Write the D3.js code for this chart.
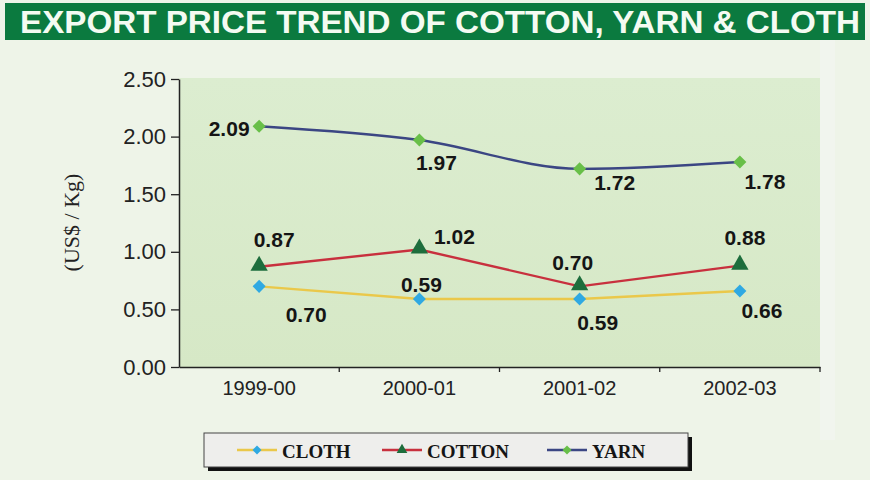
<!DOCTYPE html>
<html>
<head>
<meta charset="utf-8">
<script src="https://cdn.jsdelivr.net/npm/d3@7"></script>
<style>
  html, body { margin: 0; padding: 0; background: #eef4e8; }
  svg { display: block; }
</style>
</head>
<body>
<svg id="chart" width="870" height="480"></svg>
<script>
// Export prices in US$ per Kg
const years = ["1999-00", "2000-01", "2001-02", "2002-03"];
const cloth = [0.70, 0.59, 0.59, 0.66];
const cotton = [0.87, 1.02, 0.70, 0.88];
const yarn = [2.09, 1.97, 1.72, 1.78];
const yTicks = [0, 0.5, 1, 1.5, 2, 2.5];

// label offsets (dx, dy) relative to each point
const clothLabelPos = [[47, 28], [2, -15], [18, 23], [22, 20]];
const cottonLabelPos = [[15, -27], [35, -13], [-7, -24], [5, -28]];
const yarnLabelPos = [[-30, 2], [17, 22], [35, 14], [25, 20]];

const svg = d3.select("#chart");
const W = 870, H = 480;

// page backdrop
svg.append("rect").attr("width", W).attr("height", H).attr("fill", "#eef4e8");
svg.append("rect").attr("x", 820).attr("y", 40).attr("width", 15).attr("height", 400).attr("fill", "#f1f5ee");

// title band
svg.append("rect").attr("x", 5).attr("y", 3).attr("width", 860).attr("height", 37).attr("fill", "#0b7a3f");
svg.append("text")
  .attr("x", 20).attr("y", 33)
  .attr("textLength", 840).attr("lengthAdjust", "spacingAndGlyphs")
  .attr("font-family", "Liberation Sans Narrow, Arial Narrow, Liberation Sans, Arial, sans-serif")
  .attr("font-weight", "bold").attr("font-size", 32)
  .attr("fill", "#f4fbf2")
  .text("EXPORT PRICE TREND OF COTTON, YARN & CLOTH");

const plot = { left: 179, right: 820, top: 78, bottom: 367 };

const defs = svg.append("defs");
const grad = defs.append("linearGradient").attr("id", "plotBg").attr("x1", 0).attr("y1", 0).attr("x2", 0).attr("y2", 1);
grad.append("stop").attr("offset", "0%").attr("stop-color", "#dcedd0");
grad.append("stop").attr("offset", "100%").attr("stop-color", "#d6e8c6");

svg.append("rect")
  .attr("x", plot.left).attr("y", plot.top)
  .attr("width", plot.right - plot.left).attr("height", plot.bottom - plot.top)
  .attr("fill", "url(#plotBg)");

const x = d3.scaleBand().domain(years).range([plot.left, plot.right]);
const y = d3.scaleLinear().domain([0, 2.5]).range([plot.bottom, plot.top + 1]);
const cx = d => x(d) + x.bandwidth() / 2;

// y axis
const yAxis = svg.append("g")
  .attr("transform", `translate(${plot.left},0)`)
  .call(d3.axisLeft(y).tickValues(yTicks).tickFormat(d3.format(".2f")).tickSize(8).tickSizeOuter(0));
yAxis.select(".domain").attr("stroke", "#222").attr("stroke-width", 1.5);
yAxis.selectAll(".tick line").attr("stroke", "#222").attr("stroke-width", 1.3);
yAxis.selectAll(".tick text")
  .attr("x", -13)
  .attr("font-family", "Liberation Sans, Arial, sans-serif")
  .attr("font-size", 22).attr("fill", "#222");

// x axis
const xAxis = svg.append("g")
  .attr("transform", `translate(0,${plot.bottom})`)
  .call(d3.axisBottom(x).tickSize(0).tickSizeOuter(0));
xAxis.select(".domain").attr("stroke", "#222").attr("stroke-width", 1.5);
xAxis.selectAll(".tick text")
  .attr("dy", "1.25em")
  .attr("font-family", "Liberation Sans, Arial, sans-serif")
  .attr("font-size", 20).attr("fill", "#222");
// category separators
svg.append("g").selectAll("line")
  .data(years.slice(1).map(d => x(d)).concat([plot.right]))
  .join("line")
  .attr("x1", d => d).attr("x2", d => d)
  .attr("y1", plot.bottom).attr("y2", plot.bottom + 5)
  .attr("stroke", "#222").attr("stroke-width", 1.3);

// y axis title
svg.append("text")
  .attr("transform", `translate(79,${(plot.top + plot.bottom) / 2}) rotate(-90)`)
  .attr("text-anchor", "middle")
  .attr("font-family", "Liberation Serif, Times New Roman, serif")
  .attr("font-size", 22).attr("fill", "#222")
  .text("(US$ / Kg)");

// square rotated 45 degrees, as wide as it is tall
const wideDiamond = {
  draw(ctx, size) {
    const r = Math.sqrt(size / 2);
    ctx.moveTo(0, -r); ctx.lineTo(r, 0); ctx.lineTo(0, r); ctx.lineTo(-r, 0); ctx.closePath();
  }
};

const series = [
  { name: "CLOTH", values: cloth, line: "#eac84a", marker: "#2fa9e2", shape: wideDiamond, curve: d3.curveLinear, labels: clothLabelPos },
  { name: "COTTON", values: cotton, line: "#c8303e", marker: "#1d6d3c", shape: d3.symbolTriangle, curve: d3.curveLinear, labels: cottonLabelPos },
  { name: "YARN", values: yarn, line: "#3b4683", marker: "#68bf48", shape: wideDiamond, curve: d3.curveMonotoneX, labels: yarnLabelPos }
];

const lineGen = (curve) => d3.line().x((d, i) => cx(years[i])).y(d => y(d)).curve(curve);

series.forEach(s => {
  svg.append("path")
    .datum(s.values)
    .attr("d", lineGen(s.curve))
    .attr("fill", "none")
    .attr("stroke", s.line)
    .attr("stroke-width", 2.4);
});

series.forEach(s => {
  const tri = s.shape === d3.symbolTriangle;
  svg.append("g").selectAll("path")
    .data(s.values)
    .join("path")
    .attr("transform", (d, i) => `translate(${cx(years[i])},${y(d) + (tri ? -1 : 0)})`)
    .attr("d", d3.symbol().type(s.shape).size(tri ? 130 : 85))
    .attr("fill", s.marker);

  svg.append("g").selectAll("text")
    .data(s.values)
    .join("text")
    .attr("x", (d, i) => cx(years[i]) + s.labels[i][0])
    .attr("y", (d, i) => y(d) + s.labels[i][1])
    .attr("text-anchor", "middle")
    .attr("dominant-baseline", "central")
    .attr("font-family", "Liberation Sans, Arial, sans-serif")
    .attr("font-weight", "bold").attr("font-size", 21)
    .attr("fill", "#151515")
    .text(d => d3.format(".2f")(d));
});

// legend
const lg = { x: 204, y: 433, w: 484, h: 34 };
svg.append("rect").attr("x", lg.x + 4).attr("y", lg.y + 4).attr("width", lg.w).attr("height", lg.h).attr("fill", "#111");
svg.append("rect").attr("x", lg.x).attr("y", lg.y).attr("width", lg.w).attr("height", lg.h)
  .attr("fill", "#eeeeec").attr("stroke", "#444").attr("stroke-width", 1);

const legendX = [237, 382, 547];
series.forEach((s, i) => {
  const g = svg.append("g").attr("transform", `translate(${legendX[i]},${lg.y + lg.h / 2})`);
  g.append("line").attr("x1", 0).attr("x2", 40).attr("stroke", s.line).attr("stroke-width", 2.5);
  g.append("path").attr("transform", "translate(20,0)")
    .attr("d", d3.symbol().type(s.shape).size(s.shape === d3.symbolTriangle ? 50 : 40)).attr("fill", s.marker);
  g.append("text").attr("x", 45).attr("y", 1)
    .attr("dominant-baseline", "central")
    .attr("font-family", "Liberation Serif, Times New Roman, serif")
    .attr("font-weight", "bold").attr("font-size", 19).attr("fill", "#151515")
    .text(s.name);
});
</script>
</body>
</html>
